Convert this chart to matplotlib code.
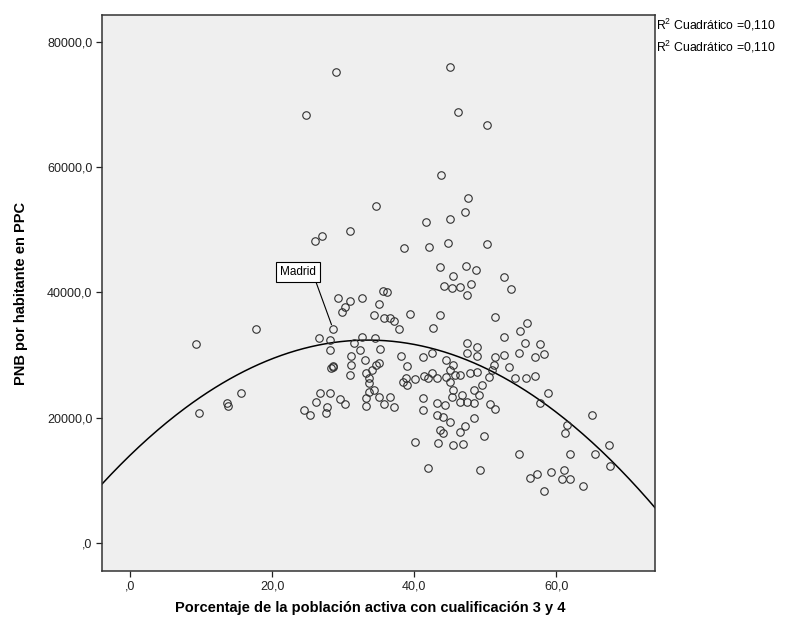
import matplotlib
matplotlib.use("Agg")
import matplotlib.pyplot as plt
import numpy as np
from matplotlib.ticker import FixedLocator, FixedFormatter

plt.rcParams['font.family'] = ['Liberation Sans', 'DejaVu Sans']

# Porcentaje de la población activa con cualificación 3 y 4 (x)
pct_cualif = [
    29.0, 24.8, 45.1, 46.2, 50.3, 43.8, 34.6, 47.6, 47.2, 45.1, 41.7, 31.0, 27.0, 26.1, 44.8, 50.3, 38.6, 42.1,
    17.7, 9.3, 15.6, 13.6, 13.8, 9.7,
    43.7, 47.3, 48.7, 45.5, 44.2, 45.3, 46.4, 48.0, 47.5, 35.6, 36.2, 29.3, 31.0, 32.7, 35.0, 30.3, 29.9,
    39.4, 43.6, 34.4, 35.7, 36.6, 37.1, 37.8, 42.6, 28.6, 26.6, 28.1, 32.6, 34.5, 47.4, 48.8, 28.1, 31.5,
    32.4, 35.2, 47.4, 48.8, 42.5, 41.2, 38.1, 31.1, 31.1, 33.1, 35.0, 34.7, 39.0, 28.6, 28.6, 28.3, 34.0,
    44.5, 45.5, 45.1, 45.8, 44.5, 46.5, 47.8, 48.8, 42.5, 41.4, 42.0, 43.2, 38.9, 38.5, 39.0, 40.1, 31.0,
    33.2, 33.6, 33.7, 33.6, 34.4, 33.2, 35.1, 36.6, 35.7, 37.1, 33.2, 26.8, 28.2, 26.2, 29.5, 30.3, 24.5,
    25.3, 27.7, 27.6, 41.3, 41.3, 43.2, 44.4, 45.3, 46.4, 46.7, 47.4, 48.4, 48.4, 45.5, 45.1, 48.4, 43.2,
    44.1, 45.1, 43.7, 44.1, 46.5, 47.2, 40.1, 43.4, 45.5, 46.9, 42.0,
    52.6, 53.7, 51.4, 55.9, 54.9, 52.6, 55.6, 57.7, 54.7, 58.3, 57.0, 51.4, 52.6, 53.3, 51.2, 50.9, 54.2,
    55.8, 57.0, 50.5, 49.5, 49.1, 50.7, 51.4, 58.9, 57.7, 65.0, 61.5, 61.3, 49.9, 67.4, 65.4, 62.0, 67.5,
    54.8, 49.3, 56.3, 57.3, 59.3, 61.1, 60.8, 62.0, 63.8, 58.3,
]
# PNB por habitante en PPC (y)
pnb_ppc = [
    75200, 68350, 76000, 68800, 66750, 58800, 53800, 55100, 52860, 51740, 51260, 49830, 49030, 48230, 47910, 47750, 47110, 47270,
    34180, 31780, 24000, 22310, 21880, 20710,
    44030, 44290, 43600, 42640, 41040, 40680, 40930, 41310, 39610, 40290, 40130, 39080, 38700, 39080, 38120, 37740, 36940,
    36520, 36410, 36410, 35880, 35880, 35500, 34130, 34290, 34130, 32690, 32420, 32950, 32690, 31990, 31350, 30820, 31890,
    30820, 30980, 30300, 29860, 30300, 29660, 29860, 29860, 28430, 29230, 28700, 28430, 28270, 28270, 28060, 27950, 27630,
    29230, 28430, 27630, 26830, 26560, 26830, 27100, 27360, 27100, 26670, 26300, 26300, 26300, 25760, 25230, 26140, 26830,
    27100, 26300, 25500, 24160, 24430, 23110, 23360, 23360, 22200, 21670, 21880, 24000, 24000, 22570, 22950, 22200, 21240,
    20440, 21770, 20810, 23110, 21240, 22310, 22040, 23360, 22570, 23640, 22570, 22310, 19910, 24430, 25760, 24430, 20440,
    20170, 19370, 18050, 17620, 17770, 18680, 16180, 15920, 15650, 15810, 12030,
    42430, 40520, 36140, 35180, 33900, 32950, 31990, 31730, 30390, 30180, 29660, 29750, 30020, 28060, 28430, 27630, 26300,
    26300, 26670, 26560, 25230, 23640, 22200, 21350, 23910, 22310, 20440, 18840, 17520, 17090, 15650, 14170, 14210, 12300,
    14210, 11660, 10330, 11020, 11290, 11660, 10170, 10170, 9150, 8350,
]

# Quadratic fit curve as drawn in the reference (coefficients x^2, x, 1)
fit_coef = [-16.4, 1098.8, 13995.0]

madrid_label = "Madrid"
madrid_point = (28.6, 34130)
madrid_text_pos = (23.7, 43280)

x_ticks = [0, 20, 40, 60]
x_ticklabels = [",0", "20,0", "40,0", "60,0"]
y_ticks = [0, 20000, 40000, 60000, 80000]
y_ticklabels = [",0", "20000,0", "40000,0", "60000,0", "80000,0"]
r2_labels = ["R$^2$ Cuadrático =0,110", "R$^2$ Cuadrático =0,110"]

plt.rcParams['mathtext.fontset'] = 'custom'
plt.rcParams['mathtext.rm'] = 'Liberation Sans'

x = np.array(pct_cualif)
y = np.array(pnb_ppc)

fig = plt.figure(figsize=(7.9, 6.28), dpi=100)
ax = fig.add_axes([0.1291, 0.0908, 0.7000, 0.8853])
ax.set_facecolor('#efefef')

ax.plot(x, y, linestyle='none', marker='o', markersize=5.4, markerfacecolor='none',
        markeredgecolor='#303030', markeredgewidth=0.8, zorder=3)

xl = (-3.94, 73.9)
xs = np.linspace(xl[0], xl[1], 300)
ax.plot(xs, np.polyval(fit_coef, xs), color='black', lw=1.1, zorder=2)

ax.annotate(madrid_label, xy=madrid_point, xytext=madrid_text_pos,
            fontsize=8.5, ha='center', va='center',
            bbox=dict(boxstyle='square,pad=0.35', fc='white', ec='black', lw=0.8),
            arrowprops=dict(arrowstyle='-', color='black', lw=0.8, shrinkA=0, shrinkB=3.5,
                            relpos=(0.95, 0.0)), zorder=4)

ax.set_xlim(*xl)
ax.set_ylim(-4470, 84310)
ax.xaxis.set_major_locator(FixedLocator(x_ticks))
ax.xaxis.set_major_formatter(FixedFormatter(x_ticklabels))
ax.yaxis.set_major_locator(FixedLocator(y_ticks))
ax.yaxis.set_major_formatter(FixedFormatter(y_ticklabels))
ax.tick_params(direction='out', length=4, width=0.9, colors='#222222', labelsize=9, pad=3)
for s in ax.spines.values():
    s.set_linewidth(1.1)
    s.set_color('#333333')

fig.text(0.4684, 0.032, "Porcentaje de la población activa con cualificación 3 y 4",
         ha='center', va='center', fontsize=10.5, fontweight='bold')
fig.text(0.027, 0.533, "PNB por habitante en PPC", ha='center', va='center',
         rotation=90, fontsize=10.5, fontweight='bold')

for i, t in enumerate(r2_labels):
    fig.text(0.8305, 1 - (25 + 22 * i) / 628, t, ha='left', va='center', fontsize=8.8)

fig.savefig("out.png", dpi=100)
